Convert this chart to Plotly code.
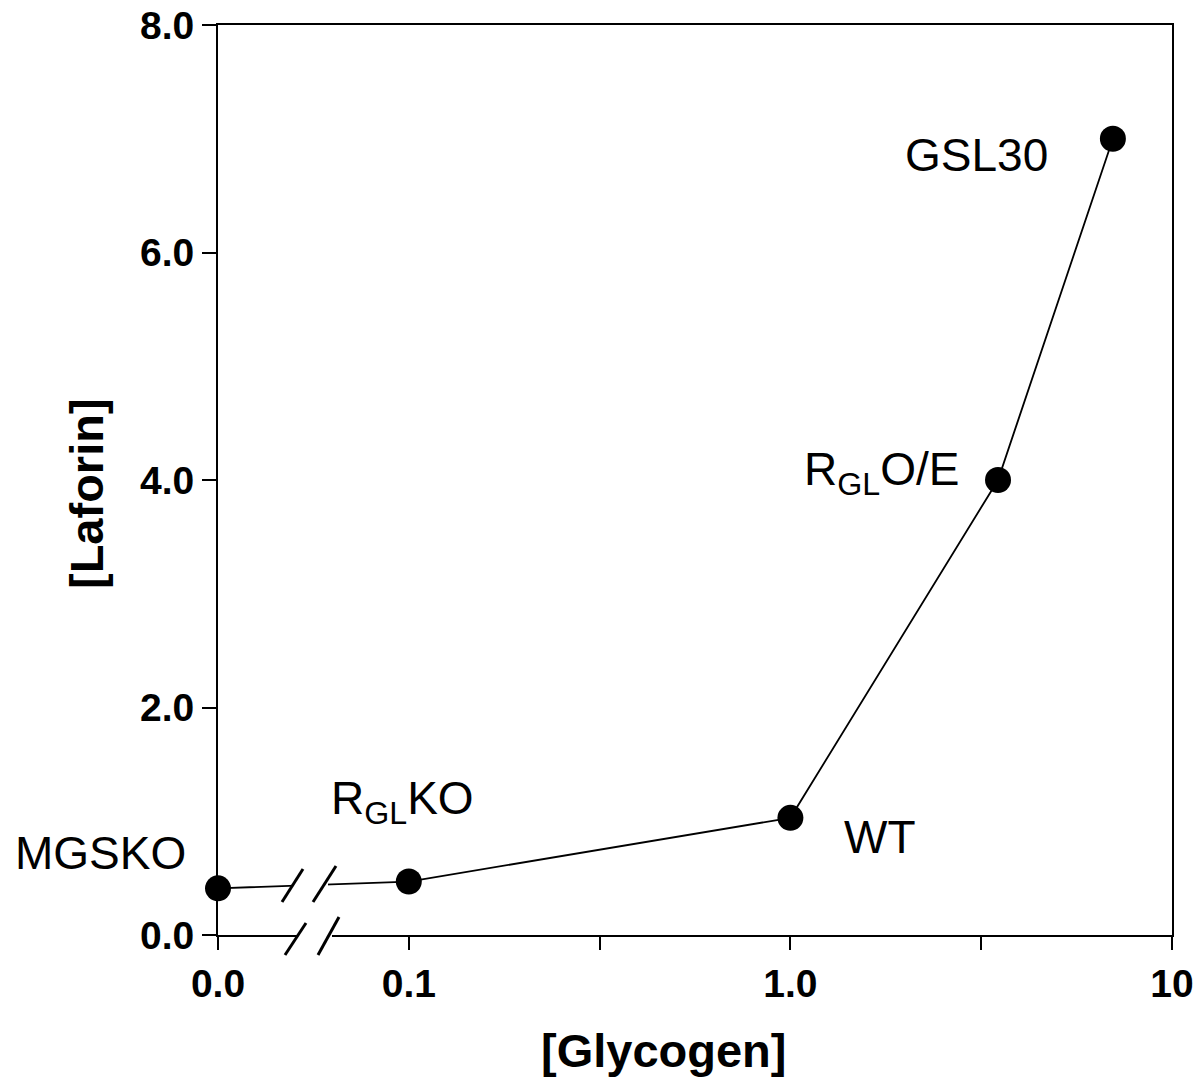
import math
import plotly.graph_objects as go

# ---- data ----
strains = ["MGSKO", "R<sub>GL</sub>KO", "WT", "R<sub>GL</sub>O/E", "GSL30"]
glycogen = [0.0, 0.1, 1.0, 3.5, 7.0]
laforin = [0.41, 0.47, 1.03, 4.0, 7.0]

x_tick_vals = [0.0, 0.1, 1.0, 10.0]
x_tick_text = ["0.0", "0.1", "1.0", "10"]
x_minor_vals = [10 ** -0.5, 10 ** 0.5]
y_tick_vals = [0, 2, 4, 6, 8]
y_tick_text = ["0.0", "2.0", "4.0", "6.0", "8.0"]

# position of the "0.0" category on the broken log axis
ZERO_POS = 10 ** -1.5


def xpos(v):
    return ZERO_POS if v == 0 else v


xs = [xpos(v) for v in glycogen]
xtv = [xpos(v) for v in x_tick_vals]

W, H = 1194, 1086
L, T = 218, 25
R = W - 1172
B = H - 935
PW, PH = W - L - R, H - T - B


def px(x):
    return (x - L) / PW


def py(y):
    return (H - B - y) / PH


FONT = "Liberation Sans, Arial, sans-serif"

fig = go.Figure()
fig.add_trace(go.Scatter(
    x=xs, y=laforin, mode="lines+markers",
    line=dict(color="black", width=1.8),
    marker=dict(color="black", size=26),
    cliponaxis=False, showlegend=False, hoverinfo="skip",
))

# labels next to points: (xshift, yshift)
offsets = [(-118, 35), (-6, 80), (90, -19), (-117, 8), (-136, -16)]
for name, x, y, (dx, dy) in zip(strains, xs, laforin, offsets):
    fig.add_annotation(
        x=math.log10(x), y=y, xref="x", yref="y", text=name, showarrow=False,
        xshift=dx, yshift=dy, xanchor="center", yanchor="middle",
        font=dict(family=FONT, size=46, color="black"),
    )

# axis titles
fig.add_annotation(x=px(663), y=py(1050), xref="paper", yref="paper",
                   text="<b>[Glycogen]</b>", showarrow=False,
                   xanchor="center", yanchor="middle",
                   font=dict(family=FONT, size=47, color="black"))
fig.add_annotation(x=px(87), y=py(494), xref="paper", yref="paper",
                   text="<b>[Laforin]</b>", showarrow=False, textangle=-90,
                   xanchor="center", yanchor="middle",
                   font=dict(family=FONT, size=47, color="black"))

# axis break marks
shapes = []
shapes.append(dict(type="rect", xref="paper", yref="paper",
                   x0=px(293), x1=px(328), y0=py(896), y1=py(876),
                   fillcolor="white", line=dict(width=0), layer="above"))
shapes.append(dict(type="rect", xref="paper", yref="paper",
                   x0=px(297), x1=px(332), y0=py(941), y1=py(929),
                   fillcolor="white", line=dict(width=0), layer="above"))
for (x0, y0, x1, y1) in [(282, 902, 303, 869), (313, 902, 336, 866),
                         (285, 955, 306, 923), (318, 955, 339, 917)]:
    shapes.append(dict(type="line", xref="paper", yref="paper",
                       x0=px(x0), y0=py(y0), x1=px(x1), y1=py(y1),
                       line=dict(color="black", width=3), layer="above"))

fig.update_layout(
    width=W, height=H,
    margin=dict(l=L, r=R, t=T, b=B, autoexpand=False),
    paper_bgcolor="white", plot_bgcolor="white",
    template="none",
    shapes=shapes,
    font=dict(family=FONT, color="black"),
)
fig.update_xaxes(
    type="log", range=[-1.5, 1.0], tickmode="array",
    tickvals=xtv, ticktext=x_tick_text, ticklabeloverflow="allow",
    ticks="outside", ticklen=13, tickwidth=2, tickcolor="black",
    minor=dict(tickmode="array", tickvals=x_minor_vals, ticks="outside",
               ticklen=13, tickwidth=2, tickcolor="black", showgrid=False),
    showline=True, linecolor="black", linewidth=2, mirror=True,
    showgrid=False, zeroline=False, automargin=False,
    tickfont=dict(family=FONT, size=39, color="black", weight="bold"),
)
fig.update_yaxes(
    range=[0, 8], tickmode="array", tickvals=y_tick_vals, ticktext=y_tick_text,
    ticklabeloverflow="allow",
    ticks="outside", ticklen=14, tickwidth=2, tickcolor="black",
    showline=True, linecolor="black", linewidth=2, mirror=True,
    showgrid=False, zeroline=False, automargin=False,
    tickfont=dict(family=FONT, size=39, color="black", weight="bold"),
)

fig.write_html(
    "out.html",
    config={"displayModeBar": False},
    post_script="document.body.style.margin='0';"
                "document.body.style.overflow='hidden';",
)
